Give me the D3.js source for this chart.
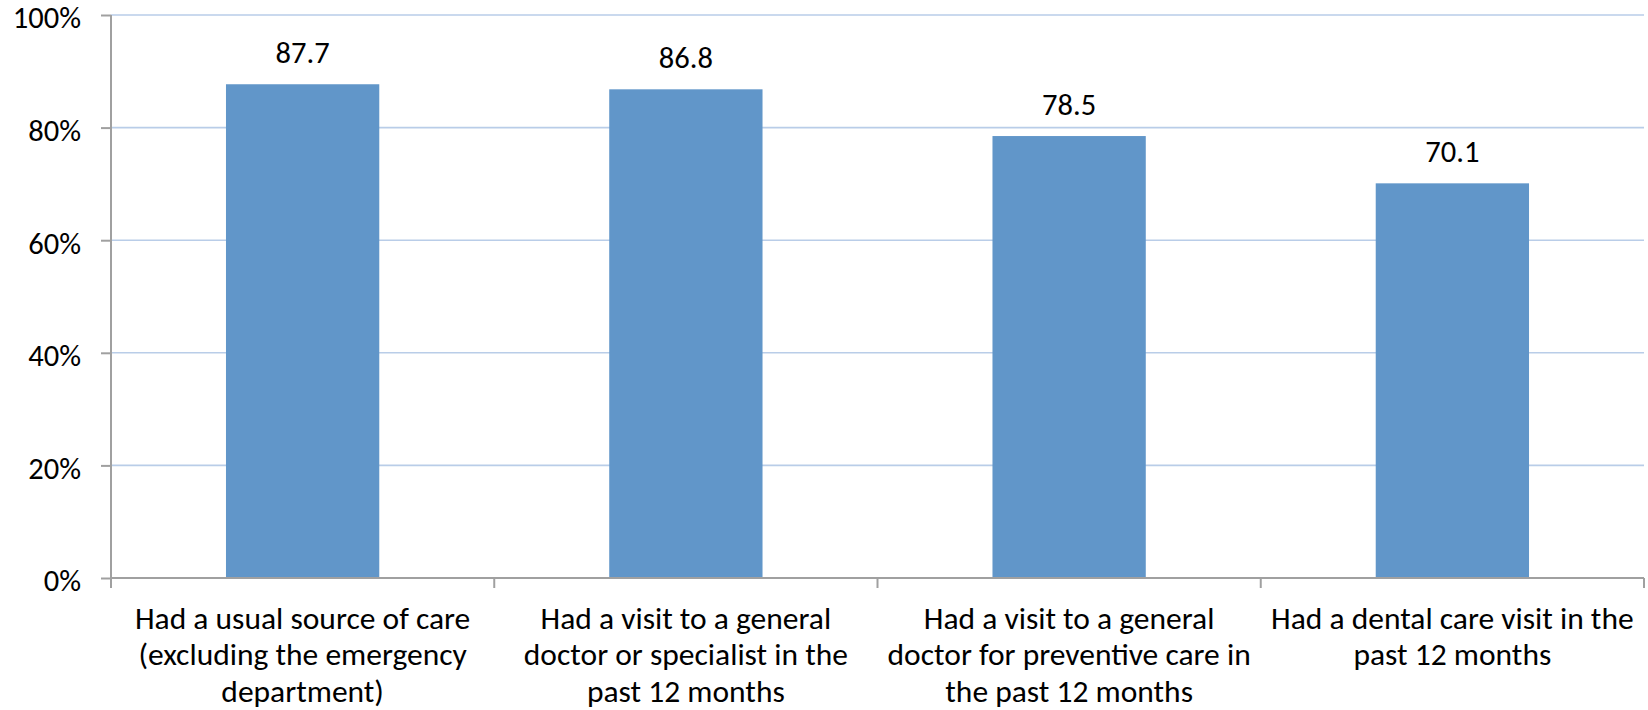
<!DOCTYPE html>
<html>
<head>
<meta charset="utf-8">
<script src="https://cdn.jsdelivr.net/npm/d3@7"></script>
<style>
  html, body { margin: 0; padding: 0; background: #fff; }
  svg { display: block; }
  text { font-family: Carlito, Calibri, Lato, sans-serif; fill: #000; }
</style>
</head>
<body>
<svg id="chart" width="1648" height="710"></svg>
<script>
const categories = [
  "Had a usual source of care (excluding the emergency department)",
  "Had a visit to a general doctor or specialist in the past 12 months",
  "Had a visit to a general doctor for preventive care in the past 12 months",
  "Had a dental care visit in the past 12 months"
];
const categoryLines = [
  ["Had a usual source of care", "(excluding the emergency", "department)"],
  ["Had a visit to a general", "doctor or specialist in the", "past 12 months"],
  ["Had a visit to a general", "doctor for preventive care in", "the past 12 months"],
  ["Had a dental care visit in the", "past 12 months"]
];
const values = [87.7, 86.8, 78.5, 70.1];
const yTicks = [0, 20, 40, 60, 80, 100];
const yTickLabels = ["0%", "20%", "40%", "60%", "80%", "100%"];

const svg = d3.select("#chart");
const margin = { left: 111, right: 4, top: 15, bottom: 132 };
const W = 1648, H = 710;
const x0 = margin.left, x1 = W - margin.right;
const yTop = margin.top, yBot = H - margin.bottom;

const x = d3.scaleBand().domain(categories).range([x0, x1]).paddingInner(0.6).paddingOuter(0.3);
const xb = d3.scaleBand().domain(categories).range([x0, x1]).padding(0);
const y = d3.scaleLinear().domain([0, 100]).range([yBot, yTop]);

const fontSize = 30.5;
const catFontSize = 31.5;

// gridlines
svg.append("g").selectAll("line").data(yTicks.filter(d => d > 0)).join("line")
  .attr("x1", x0).attr("x2", x1)
  .attr("y1", d => y(d)).attr("y2", d => y(d))
  .attr("stroke", "#b9cde8").attr("stroke-width", 1.6);

// bars
svg.append("g").selectAll("rect").data(values).join("rect")
  .attr("x", (d, i) => x(categories[i]))
  .attr("width", x.bandwidth())
  .attr("y", d => y(d))
  .attr("height", d => y(0) - y(d))
  .attr("fill", "#6196c9");

// value labels
svg.append("g").selectAll("text").data(values).join("text")
  .attr("x", (d, i) => x(categories[i]) + x.bandwidth() / 2)
  .attr("y", d => y(d) - 21)
  .attr("text-anchor", "middle")
  .attr("font-size", fontSize)
  .text(d => d.toFixed(1));

// y axis
const yAxis = d3.axisLeft(y).tickValues(yTicks).tickFormat((d, i) => yTickLabels[i]).tickSize(10).tickPadding(20);
const gy = svg.append("g").attr("transform", `translate(${x0},0)`).call(yAxis);
gy.select(".domain").attr("stroke", "#a0a0a0").attr("stroke-width", 2).attr("d", `M0,${yTop}V${yBot + 10}`);
gy.selectAll(".tick line").attr("stroke", "#a0a0a0").attr("stroke-width", 2);
gy.selectAll(".tick text").attr("font-size", fontSize).attr("font-family", "Carlito, Calibri, Lato, sans-serif").attr("fill", "#000").attr("dy", "0.42em");

// x axis baseline and boundary ticks
const gx = svg.append("g");
gx.append("line").attr("x1", x0).attr("x2", x1).attr("y1", yBot).attr("y2", yBot)
  .attr("stroke", "#a0a0a0").attr("stroke-width", 2);
const bounds = categories.map(c => xb(c)).concat([x1]);
gx.selectAll("line.bt").data(bounds).join("line").attr("class", "bt")
  .attr("x1", d => d).attr("x2", d => d).attr("y1", yBot).attr("y2", yBot + 10)
  .attr("stroke", "#a0a0a0").attr("stroke-width", 2);

// category labels
const lab = svg.append("g").selectAll("text").data(categories).join("text")
  .attr("text-anchor", "middle")
  .attr("font-size", catFontSize)
  .attr("x", c => xb(c) + xb.bandwidth() / 2)
  .attr("y", yBot + 51);
lab.each(function(c, i) {
  d3.select(this).selectAll("tspan").data(categoryLines[i]).join("tspan")
    .attr("x", xb(c) + xb.bandwidth() / 2)
    .attr("dy", (d, j) => j === 0 ? 0 : 36.3)
    .text(d => d);
});
</script>
</body>
</html>
